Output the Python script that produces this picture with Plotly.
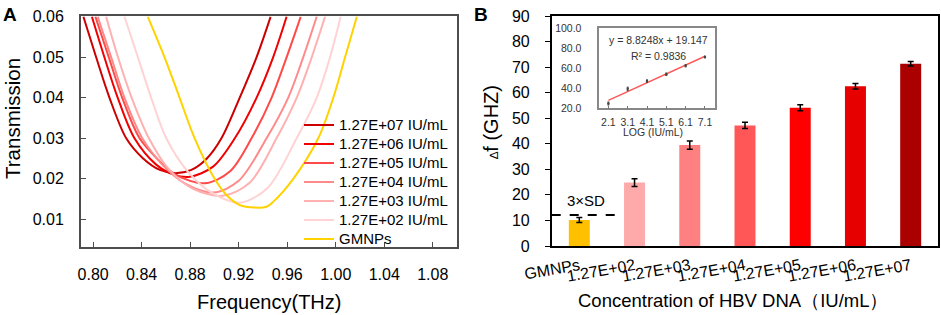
import plotly.graph_objects as go

W, H = 941, 315

# ---------------- Panel A: transmission spectra ----------------
freq_e07 = [0.792, 0.8025, 0.8135, 0.8273, 0.841, 0.855, 0.868, 0.881, 0.8934, 0.9058, 0.9208, 0.9347, 0.9463]
trans_e07 = [0.060, 0.050, 0.040, 0.030, 0.0251, 0.0222, 0.0214, 0.0222, 0.0249, 0.030, 0.040, 0.050, 0.060]

freq_e06 = [0.799, 0.8093, 0.8203, 0.8341, 0.852, 0.866, 0.8796, 0.8989, 0.9168, 0.9347, 0.9484, 0.9595]
trans_e06 = [0.060, 0.050, 0.040, 0.030, 0.0235, 0.0211, 0.0205, 0.0230, 0.030, 0.040, 0.050, 0.060]

freq_e05 = [0.8019, 0.8129, 0.824, 0.8383, 0.855, 0.8686, 0.892, 0.9127, 0.9306, 0.9471, 0.9595, 0.9711]
trans_e05 = [0.060, 0.050, 0.040, 0.030, 0.0243, 0.0209, 0.0189, 0.0218, 0.030, 0.040, 0.050, 0.060]

freq_e04 = [0.8038, 0.8149, 0.8259, 0.8405, 0.858, 0.876, 0.899, 0.920, 0.943, 0.9608, 0.9732, 0.9843]
trans_e04 = [0.060, 0.050, 0.040, 0.030, 0.0232, 0.0188, 0.0166, 0.0195, 0.030, 0.040, 0.050, 0.060]

freq_e03 = [0.8107, 0.8205, 0.8318, 0.846, 0.862, 0.882, 0.907, 0.929, 0.9512, 0.9678, 0.9802, 0.9912]
trans_e03 = [0.060, 0.050, 0.040, 0.030, 0.0225, 0.0176, 0.0158, 0.0190, 0.030, 0.040, 0.050, 0.060]

freq_e02 = [0.8259, 0.8369, 0.8479, 0.8603, 0.878, 0.898, 0.921, 0.944, 0.9678, 0.9843, 0.9953, 1.0041]
trans_e02 = [0.060, 0.050, 0.040, 0.030, 0.0218, 0.0165, 0.0141, 0.0178, 0.030, 0.040, 0.050, 0.060]

freq_gmnps = [0.8451, 0.8589, 0.8713, 0.8837, 0.9002, 0.9099, 0.9209, 0.9334, 0.943, 0.9484, 0.965, 0.9856, 0.998, 1.0077, 1.0174]
trans_gmnps = [0.060, 0.050, 0.040, 0.030, 0.020, 0.0160, 0.0135, 0.0129, 0.0131, 0.0143, 0.020, 0.030, 0.040, 0.050, 0.060]

spectra_names = ["1.27E+07 IU/mL", "1.27E+06 IU/mL", "1.27E+05 IU/mL", "1.27E+04 IU/mL",
                 "1.27E+03 IU/mL", "1.27E+02 IU/mL", "GMNPs"]
spectra_colors = ["#CC0000", "#F00000", "#FF4A4A", "#FF8A8A", "#FFB0B0", "#FFD3D3", "#FFD200"]

# ---------------- Panel B: frequency shift bars ----------------
categories = ["GMNPs", "1.27E+02", "1.27E+03", "1.27E+04", "1.27E+05", "1.27E+06", "1.27E+07"]
shift_ghz = [10.2, 24.8, 39.5, 47.2, 54.1, 62.5, 71.3]
shift_err = [1.0, 1.5, 1.6, 1.2, 1.2, 1.1, 0.85]
bar_colors = ["#FFC000", "#FFAAAA", "#FF8080", "#FF5757", "#FF0000", "#E60000", "#AA0000"]
lod_3sd = 12.1

# inset: linear fit vs LOG concentration
inset_log = [2.1, 3.1, 4.1, 5.1, 6.1, 7.1]
fit_slope = 8.8248
fit_intercept = 19.147
fit_r2 = 0.9836

FONT = "Arial, 'Liberation Sans', sans-serif"


def px(x):
    return x / W


def py(y):
    return 1 - y / H


fig = go.Figure()

spectra = [(freq_e07, trans_e07), (freq_e06, trans_e06), (freq_e05, trans_e05),
           (freq_e04, trans_e04), (freq_e03, trans_e03), (freq_e02, trans_e02),
           (freq_gmnps, trans_gmnps)]
for (fx, ty), name, col in zip(spectra, spectra_names, spectra_colors):
    fig.add_trace(go.Scatter(x=fx, y=ty, mode="lines",
                             name="<span style='font-size:15px'>%s</span>" % name,
                             line=dict(color=col, width=2, shape="spline", smoothing=0.9),
                             xaxis="x", yaxis="y", showlegend=True))

fig.add_trace(go.Bar(x=categories, y=shift_ghz, marker=dict(color=bar_colors, line=dict(width=0)),
                     error_y=dict(type="data", array=shift_err, color="black", thickness=1.5, width=3),
                     xaxis="x2", yaxis="y2", showlegend=False))

# inset
fit_x = [inset_log[0], inset_log[-1]]
fit_y = [fit_slope * 1 + fit_intercept, fit_slope * len(inset_log) + fit_intercept]
fig.add_trace(go.Scatter(x=fit_x, y=fit_y, mode="lines", line=dict(color="#FF5A5A", width=1.5),
                         xaxis="x3", yaxis="y3", showlegend=False))
fig.add_trace(go.Scatter(x=inset_log, y=shift_ghz[1:], mode="markers",
                         marker=dict(color="#444", size=2.5),
                         error_y=dict(type="data", array=shift_err[1:], color="#444", thickness=1, width=1),
                         xaxis="x3", yaxis="y3", showlegend=False))

axis_common = dict(showgrid=False, zeroline=False, showline=True, mirror=True, automargin=False)

fig.update_layout(
    template="none",
    width=W, height=H,
    margin=dict(l=0, r=0, t=0, b=0, autoexpand=False),
    paper_bgcolor="white", plot_bgcolor="white",
    font=dict(family=FONT, color="black", size=16),
    bargap=0.62,
    xaxis=dict(domain=[px(81), px(457)], range=[0.79, 1.10], anchor="y",
               tick0=0.8, dtick=0.04, tickformat=".2f", ticks="inside", ticklen=5,
               tickcolor="#4d4d4d", linecolor="#4d4d4d", linewidth=2,
               ticklabelstandoff=12, tickfont=dict(size=16), **axis_common),
    yaxis=dict(domain=[py(247), py(16)], range=[0.00316, 0.0602], anchor="x",
               tick0=0, dtick=0.01, tickformat=".2f", ticks="inside", ticklen=5,
               tickcolor="#4d4d4d", linecolor="#4d4d4d", linewidth=2,
               ticklabelstandoff=12, tickfont=dict(size=16), **axis_common),
    xaxis2=dict(domain=[px(551.7), px(938.3)], type="category", range=[-0.5, 6.5], anchor="y2",
                tickangle=-10, ticks="", linecolor="black", linewidth=1.5,
                tickfont=dict(size=16), ticklabelstandoff=3, **axis_common),
    yaxis2=dict(domain=[py(246), py(16)], range=[0, 90], anchor="x2", dtick=10,
                ticks="outside", ticklen=5, tickcolor="black", linecolor="black", linewidth=1.5,
                ticklabelstandoff=12, tickfont=dict(size=16), **axis_common),
    xaxis3=dict(domain=[px(599.3), px(715)], range=[1.63, 7.62], anchor="y3",
                tickvals=inset_log, tickformat=".1f", ticks="inside", ticklen=3,
                tickcolor="#777", linecolor="#888", linewidth=1.5,
                tickfont=dict(size=10.5, color="#333"), ticklabelstandoff=3, **axis_common),
    yaxis3=dict(domain=[py(108.3), py(28.3)], range=[20, 100], anchor="x3",
                tick0=20, dtick=20, tickformat=".1f", ticks="",
                linecolor="#888", linewidth=1.5,
                tickfont=dict(size=10.5, color="#333"), ticklabelstandoff=14, **axis_common),
    legend=dict(x=px(299), y=py(110.5), xanchor="left", yanchor="top",
                bgcolor="rgba(0,0,0,0)", font=dict(size=12.2), itemwidth=30,
                tracegroupgap=0, borderwidth=0),
)

ann = [
    dict(text="<b>A</b>", x=px(1), y=py(2), xanchor="left", yanchor="top", font=dict(size=19)),
    dict(text="<b>B</b>", x=px(472), y=py(2), xanchor="left", yanchor="top", font=dict(size=19)),
    dict(text="Transmission", x=px(12), y=py(119), textangle=-90, font=dict(size=20.5)),
    dict(text="Frequency(THz)", x=px(269), y=py(301.5), font=dict(size=20)),
    dict(text="<span style='font-size:12px'>∆</span>f (GHZ)", x=px(491), y=py(122), textangle=-90,
         font=dict(size=20)),
    dict(text="Concentration of HBV DNA（IU/mL）", x=px(733), y=py(300), font=dict(size=18.5)),
    dict(text="3×SD", x=px(565), y=py(201), xanchor="left", font=dict(size=15)),
    dict(text="y = 8.8248x + 19.147", x=px(658), y=py(39.5), font=dict(size=10.5, color="#333")),
    dict(text="R² = %.4f" % fit_r2, x=px(658), y=py(56), font=dict(size=10.5, color="#333")),
    dict(text="LOG (IU/mL)", x=px(653), y=py(131.5), font=dict(size=10.5, color="#333")),
]
for a in ann:
    a.setdefault("xref", "paper")
    a.setdefault("yref", "paper")
    a.setdefault("xanchor", "center")
    a.setdefault("yanchor", "middle")
    a["showarrow"] = False
fig.update_layout(annotations=ann)

fig.add_shape(type="line", xref="x2 domain", yref="y2", x0=0, x1=0.185, y0=lod_3sd, y1=lod_3sd,
              line=dict(color="black", width=2, dash="dash"))

fig.write_html("out.html", config={"displayModeBar": False},
               post_script="document.body.style.margin='0px';document.body.style.overflow='hidden';")
